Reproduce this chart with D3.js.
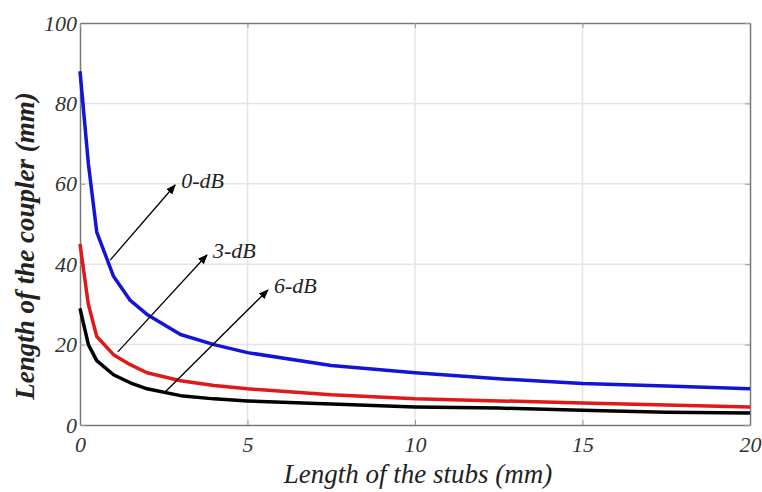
<!DOCTYPE html>
<html>
<head>
<meta charset="utf-8">
<script src="https://cdn.jsdelivr.net/npm/d3@7"></script>
<style>
  body { margin: 0; background: #fff; }
  text { font-family: "Liberation Serif", "DejaVu Serif", serif; font-style: italic; }
</style>
</head>
<body>
<div id="chart"></div>
<script>
// stub length (mm)
var stubs = [0, 0.25, 0.5, 1, 1.5, 2, 3, 4, 5, 7.5, 10, 12.5, 15, 17.5, 20];
// coupler length (mm) for each coupling level
var coupler0dB = [88, 65, 48, 37, 31, 27.5, 22.5, 20, 18, 14.8, 13, 11.5, 10.3, 9.7, 9.0];
var coupler3dB = [45, 30, 22, 17.5, 15, 13, 11, 9.8, 9, 7.5, 6.5, 6, 5.5, 5, 4.5];
var coupler6dB = [29, 20, 16, 12.5, 10.5, 9, 7.3, 6.5, 6, 5.2, 4.5, 4.2, 3.7, 3.2, 3.0];
var xTicks = [0, 5, 10, 15, 20];
var yTicks = [0, 20, 40, 60, 80, 100];
// annotation arrows: [label, from x, from y, to x, to y]
var labels = ["0-dB", "3-dB", "6-dB"];
var arrowFrom = [[0.9, 41], [1.13, 18.2], [2.54, 8.2]];
var arrowTo = [[2.84, 59.7], [3.79, 42.3], [5.61, 33.6]];

var margin = {top: 23, right: 12, bottom: 67, left: 80},
    width = 762 - margin.left - margin.right,
    height = 492 - margin.top - margin.bottom;

var svg = d3.select("#chart").append("svg")
    .attr("width", 762)
    .attr("height", 492);

var defs = svg.append("defs");
defs.append("marker")
    .attr("id", "arrow")
    .attr("viewBox", "0 0 10 10")
    .attr("refX", 9).attr("refY", 5)
    .attr("markerWidth", 10).attr("markerHeight", 10)
    .attr("markerUnits", "userSpaceOnUse")
    .attr("orient", "auto")
    .append("path")
    .attr("d", "M0,1 L10,5 L0,9 z")
    .attr("fill", "#000");

var g = svg.append("g")
    .attr("transform", "translate(" + margin.left + "," + margin.top + ")");

var x = d3.scaleLinear().domain([0, 20]).range([0, width]);
var y = d3.scaleLinear().domain([0, 100]).range([height, 0]);

// grid
g.append("g").selectAll("line")
    .data(xTicks.slice(1, -1))
    .enter().append("line")
    .attr("x1", function(d){ return x(d); })
    .attr("x2", function(d){ return x(d); })
    .attr("y1", 0).attr("y2", height)
    .attr("stroke", "#e4e4e4")
    .attr("stroke-width", 1.5);
g.append("g").selectAll("line")
    .data(yTicks.slice(1, -1))
    .enter().append("line")
    .attr("y1", function(d){ return y(d); })
    .attr("y2", function(d){ return y(d); })
    .attr("x1", 0).attr("x2", width)
    .attr("stroke", "#e4e4e4")
    .attr("stroke-width", 1.5);

// axes
var xAxis = d3.axisBottom(x).tickValues(xTicks).tickSizeInner(-5).tickSizeOuter(0).tickPadding(11);
var yAxis = d3.axisLeft(y).tickValues(yTicks).tickSizeInner(-5).tickSizeOuter(0).tickPadding(3);

var gx = g.append("g")
    .attr("transform", "translate(0," + height + ")")
    .call(xAxis);
var gy = g.append("g").call(yAxis);

g.append("g").call(d3.axisTop(x).tickValues(xTicks).tickSizeInner(-5).tickSizeOuter(0).tickFormat(""));
g.append("g").attr("transform", "translate(" + width + ",0)")
    .call(d3.axisRight(y).tickValues(yTicks).tickSizeInner(-5).tickSizeOuter(0).tickFormat(""));

svg.selectAll(".domain").attr("stroke", "#777").attr("stroke-width", 1.5);
svg.selectAll(".tick line").attr("stroke", "#999");
svg.selectAll(".tick text")
    .attr("font-size", 22)
    .attr("fill", "#333")
    .attr("font-family", "Liberation Serif, serif")
    .attr("font-style", "italic");

// curves
var line = d3.line()
    .x(function(d){ return x(d[0]); })
    .y(function(d){ return y(d[1]); });

var series = [
    {values: coupler0dB, color: "#1414d8"},
    {values: coupler3dB, color: "#e01818"},
    {values: coupler6dB, color: "#000000"}
];

g.selectAll(".curve")
    .data(series)
    .enter().append("path")
    .attr("class", "curve")
    .attr("fill", "none")
    .attr("stroke", function(d){ return d.color; })
    .attr("stroke-width", 3.5)
    .attr("stroke-linejoin", "round")
    .attr("d", function(d){
        return line(stubs.map(function(s, i){ return [s, d.values[i]]; }));
    });

// arrows and labels
labels.forEach(function(lab, i){
    g.append("line")
        .attr("x1", x(arrowFrom[i][0])).attr("y1", y(arrowFrom[i][1]))
        .attr("x2", x(arrowTo[i][0])).attr("y2", y(arrowTo[i][1]))
        .attr("stroke", "#000")
        .attr("stroke-width", 1.3)
        .attr("marker-end", "url(#arrow)");
    g.append("text")
        .attr("x", x(arrowTo[i][0]) + 6)
        .attr("y", y(arrowTo[i][1]) + 3)
        .attr("font-size", 22)
        .attr("fill", "#222")
        .text(lab);
});

// axis titles
svg.append("text")
    .attr("x", margin.left + width / 2 + 3)
    .attr("y", 483)
    .attr("text-anchor", "middle")
    .attr("font-size", 27)
    .attr("fill", "#222")
    .text("Length of the stubs (mm)");

svg.append("text")
    .attr("transform", "translate(34," + (margin.top + height / 2 + 22) + ") rotate(-90)")
    .attr("text-anchor", "middle")
    .attr("font-size", 27)
    .attr("font-weight", "bold")
    .attr("fill", "#222")
    .text("Length of the coupler (mm)");
</script>
</body>
</html>
